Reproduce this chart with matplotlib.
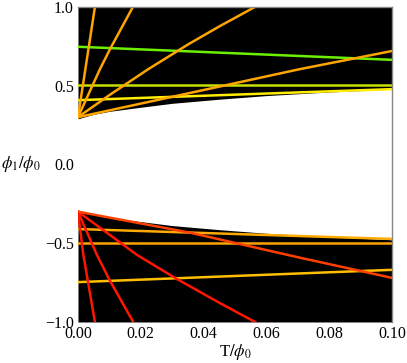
import matplotlib
matplotlib.use("Agg")
import matplotlib.pyplot as plt

plt.rcParams["font.family"] = ["Liberation Serif", "DejaVu Serif"]
plt.rcParams["mathtext.fontset"] = "stix"

# edge of the allowed region (upper half, lower half is the mirror)
edge_T = [0.0, 0.005, 0.01, 0.02, 0.03, 0.045, 0.06, 0.08, 0.1]
edge_phi = [0.29, 0.318, 0.337, 0.363, 0.388, 0.414, 0.437, 0.46, 0.478]

# upper branch curves, all leave (0, 0.3)
up_steep_T = [0.0, 0.0054]
up_steep = [0.3, 1.0]
up_mid_T = [0.0, 0.007, 0.0102, 0.0175]
up_mid = [0.3, 0.605, 0.732, 1.0]
up_slow_T = [0.0, 0.01, 0.0224, 0.035, 0.045, 0.0564]
up_slow = [0.3, 0.44, 0.605, 0.761, 0.876, 1.0]
up_flat_T = [0.0, 0.0325, 0.0707, 0.1]
up_flat = [0.3, 0.44, 0.605, 0.72]

# upper nearly-constant branches
h_T = [0.0, 0.1]
up_green = [0.747, 0.664]
up_half = [0.503, 0.503]
up_yellow = [0.408, 0.478]

# lower branch curves, all leave (0, -0.3)
lo_steep_T = [0.0, 0.0017, 0.0054]
lo_steep = [-0.3, -0.573, -1.0]
lo_mid_T = [0.0, 0.006, 0.0102, 0.0176]
lo_mid = [-0.3, -0.573, -0.739, -1.0]
lo_slow_T = [0.0, 0.01, 0.0187, 0.0314, 0.0452, 0.0564]
lo_slow = [-0.3, -0.445, -0.573, -0.726, -0.88, -1.0]
lo_flat_T = [0.0, 0.0357, 0.0707, 0.1]
lo_flat = [-0.3, -0.433, -0.592, -0.72]

# lower nearly-constant branches
lo_upper = [-0.41, -0.473]
lo_half = [-0.5, -0.5]
lo_amber = [-0.747, -0.669]

fig = plt.figure(figsize=(4.07, 3.63), dpi=100)
ax = fig.add_axes([0.1916, 0.113, 0.7714, 0.868])

ax.fill_between(edge_T, edge_phi, 1.0, color="black", lw=0)
ax.fill_between(edge_T, [-v for v in edge_phi], -1.0, color="black", lw=0)

lw = 1.8
ax.plot(h_T, up_green, color="#6cf000", lw=lw)
ax.plot(h_T, up_half, color="#c8e000", lw=lw)
ax.plot(h_T, up_yellow, color="#ffee00", lw=lw)
for t, y in [(up_steep_T, up_steep), (up_mid_T, up_mid),
             (up_slow_T, up_slow), (up_flat_T, up_flat)]:
    ax.plot(t, y, color="#ffa500", lw=lw)

ax.plot(h_T, lo_upper, color="#ffaa00", lw=lw)
ax.plot(h_T, lo_half, color="#ffa500", lw=lw)
ax.plot(h_T, lo_amber, color="#ffbf00", lw=lw)
for t, y in [(lo_steep_T, lo_steep), (lo_mid_T, lo_mid), (lo_slow_T, lo_slow)]:
    ax.plot(t, y, color="#ff1500", lw=lw)
ax.plot(lo_flat_T, lo_flat, color="#ff4000", lw=lw)

ax.set_xlim(0, 0.1)
ax.set_ylim(-1, 1)
ax.set_xticks([0, 0.02, 0.04, 0.06, 0.08, 0.1])
ax.set_xticklabels(["0.00", "0.02", "0.04", "0.06", "0.08", "0.10"])
ax.set_yticks([-1, -0.5, 0, 0.5, 1])
ax.set_yticklabels(["\u22121.0", "\u22120.5", "0.0", "0.5", "1.0"])
ax.tick_params(length=0, labelsize=11.5, pad=3, colors="black")

for side in ["left", "bottom"]:
    ax.spines[side].set_visible(False)
for side in ["top", "right"]:
    ax.spines[side].set_color("#888888")
    ax.spines[side].set_linewidth(1.0)

ax.set_xlabel(r"T$/\phi_0$", fontsize=12, labelpad=0)
ax.set_ylabel(r"$\phi_1/\phi_0$", fontsize=12, rotation=0, ha="right", va="center")
ax.yaxis.set_label_coords(-0.12, 0.5)

fig.savefig("out.png", dpi=100)
